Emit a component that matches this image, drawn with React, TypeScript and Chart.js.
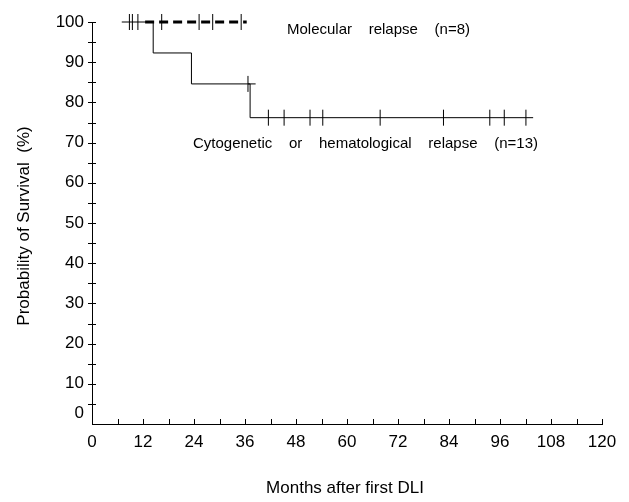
import React, { useEffect, useRef } from "react";
import { Chart, registerables } from "chart.js";

Chart.register(...registerables);

const FONT = "'Liberation Sans', Arial, Helvetica, sans-serif";

// Cytogenetic or hematological relapse (n=13): step curve (months, % survival)
const cytoSteps = [
  { x: 7.0, y: 100 },
  { x: 14.4, y: 92.3 },
  { x: 23.4, y: 84.6 },
  { x: 37.2, y: 76.2 },
  { x: 103.8, y: 76.2 },
];
const cytoOverhang = [
  { x: 36.7, y: 84.6 },
  { x: 38.5, y: 84.6 },
];
const cytoCensored = [
  { x: 36.7, y: 84.6 },
  { x: 41.5, y: 76.2 },
  { x: 45.2, y: 76.2 },
  { x: 51.3, y: 76.2 },
  { x: 54.3, y: 76.2 },
  { x: 67.8, y: 76.2 },
  { x: 82.7, y: 76.2 },
  { x: 93.6, y: 76.2 },
  { x: 97.0, y: 76.2 },
  { x: 102.1, y: 76.2 },
];

// Molecular relapse (n=8)
const molLine = [
  { x: 12.5, y: 100 },
  { x: 36.4, y: 100 },
];
const molCensored = [
  { x: 8.8, y: 100 },
  { x: 9.5, y: 100 },
  { x: 10.8, y: 100 },
  { x: 16.4, y: 100 },
  { x: 25.2, y: 100 },
  { x: 28.4, y: 100 },
  { x: 35.1, y: 100 },
];

const xTickValues = [0, 12, 24, 36, 48, 60, 72, 84, 96, 108, 120];
const yTickValues = [0, 10, 20, 30, 40, 50, 60, 70, 80, 90, 100];

const topLabelWords = ["Molecular", "relapse", "(n=8)"];
const bottomLabelWords = ["Cytogenetic", "or", "hematological", "relapse", "(n=13)"];

const yTitle = "Probability of Survival  (%)";
const xTitle = "Months after first DLI";

const decorPlugin = {
  id: "decor",
  afterDraw(chart: any) {
    const ctx = chart.ctx;
    const xs = chart.scales.x;
    const ys = chart.scales.y;
    const area = chart.chartArea;
    ctx.save();
    ctx.strokeStyle = "#000";
    ctx.lineWidth = 1;
    // y ticks every 5, crossing the axis
    for (let v = 5; v <= 100; v += 5) {
      const y = Math.round(ys.getPixelForValue(v)) + 0.5;
      ctx.beginPath();
      ctx.moveTo(area.left - 4, y);
      ctx.lineTo(area.left + 4, y);
      ctx.stroke();
    }
    // x ticks every 6, upward
    for (let v = 6; v <= 120; v += 6) {
      const x = Math.round(xs.getPixelForValue(v)) + 0.5;
      ctx.beginPath();
      ctx.moveTo(x, area.bottom);
      ctx.lineTo(x, area.bottom - 5);
      ctx.stroke();
    }
    // "0" label raised above axis
    ctx.fillStyle = "#000";
    ctx.font = `17px ${FONT}`;
    ctx.textAlign = "right";
    ctx.textBaseline = "middle";
    ctx.fillText("0", area.left - 8, ys.getPixelForValue(0) - 11);

    // annotations
    ctx.font = `15px ${FONT}`;
    ctx.textAlign = "left";
    ctx.textBaseline = "alphabetic";
    const justify = (words: string[], x0: number, x1: number, baseline: number) => {
      const widths = words.map((w) => ctx.measureText(w).width);
      const total = widths.reduce((a, b) => a + b, 0);
      const gap = (x1 - x0 - total) / (words.length - 1);
      let x = x0;
      words.forEach((w, i) => {
        ctx.fillText(w, x, baseline);
        x += widths[i] + gap;
      });
    };
    justify(topLabelWords, 287, 470, 34);
    justify(bottomLabelWords, 193, 538, 148);

    // axis titles
    ctx.font = `17px ${FONT}`;
    ctx.textAlign = "center";
    ctx.textBaseline = "middle";
    ctx.fillText(xTitle, 345, 488);
    ctx.save();
    ctx.translate(24, 226);
    ctx.rotate(-Math.PI / 2);
    ctx.fillText(yTitle, 0, 0);
    ctx.restore();
    ctx.restore();
  },
};

export default function App() {
  const ref = useRef<HTMLCanvasElement>(null);
  useEffect(() => {
    if (!ref.current) return;
    const censorStyle = {
      type: "scatter" as const,
      pointStyle: "line",
      rotation: 90,
      pointRadius: 8,
      pointBorderWidth: 1,
      borderColor: "#000",
      backgroundColor: "#000",
      showLine: false,
      clip: false,
    };
    const chart = new Chart(ref.current, {
      type: "line",
      data: {
        datasets: [
          {
            label: "Cytogenetic or hematological relapse (n=13)",
            data: cytoSteps,
            stepped: "before",
            borderColor: "#000",
            borderWidth: 1,
            pointRadius: 0,
            fill: false,
            clip: false,
          },
          {
            label: "overhang",
            data: cytoOverhang,
            borderColor: "#000",
            borderWidth: 1,
            pointRadius: 0,
            fill: false,
            clip: false,
          },
          { label: "cyto censored", data: cytoCensored, ...censorStyle } as any,
          {
            label: "Molecular relapse (n=8)",
            data: molLine,
            borderColor: "#000",
            borderWidth: 3,
            borderDash: [9, 5],
            pointRadius: 0,
            fill: false,
            clip: false,
          },
          { label: "mol censored", data: molCensored, ...censorStyle } as any,
        ],
      },
      options: {
        responsive: false,
        animation: false,
        layout: { padding: { top: 22, right: 27, left: 0, bottom: 0 } },
        plugins: { legend: { display: false }, tooltip: { enabled: false } },
        scales: {
          x: {
            type: "linear",
            min: 0,
            max: 120,
            afterFit: (s: any) => {
              s.height = 78;
            },
            afterBuildTicks: (s: any) => {
              s.ticks = xTickValues.map((v) => ({ value: v }));
            },
            grid: { display: false, drawTicks: false },
            border: { display: true, color: "#000", width: 1 },
            ticks: {
              color: "#000",
              font: { family: FONT, size: 17 },
              padding: 8,
              maxRotation: 0,
              autoSkip: false,
            },
          },
          y: {
            type: "linear",
            min: 0,
            max: 100,
            afterFit: (s: any) => {
              s.width = 92;
            },
            afterBuildTicks: (s: any) => {
              s.ticks = yTickValues.map((v) => ({ value: v }));
            },
            grid: { display: false, drawTicks: false },
            border: { display: true, color: "#000", width: 1 },
            ticks: {
              color: "#000",
              font: { family: FONT, size: 17 },
              padding: 8,
              autoSkip: false,
              callback: (v: any) => (Number(v) === 0 ? "" : String(v)),
            },
          },
        },
      },
      plugins: [decorPlugin],
    });
    return () => chart.destroy();
  }, []);
  return (
    <div style={{ position: "fixed", left: 0, top: 0, width: 629, height: 502, background: "#fff" }}>
      <canvas ref={ref} width={629} height={502} style={{ width: 629, height: 502 }} />
    </div>
  );
}
